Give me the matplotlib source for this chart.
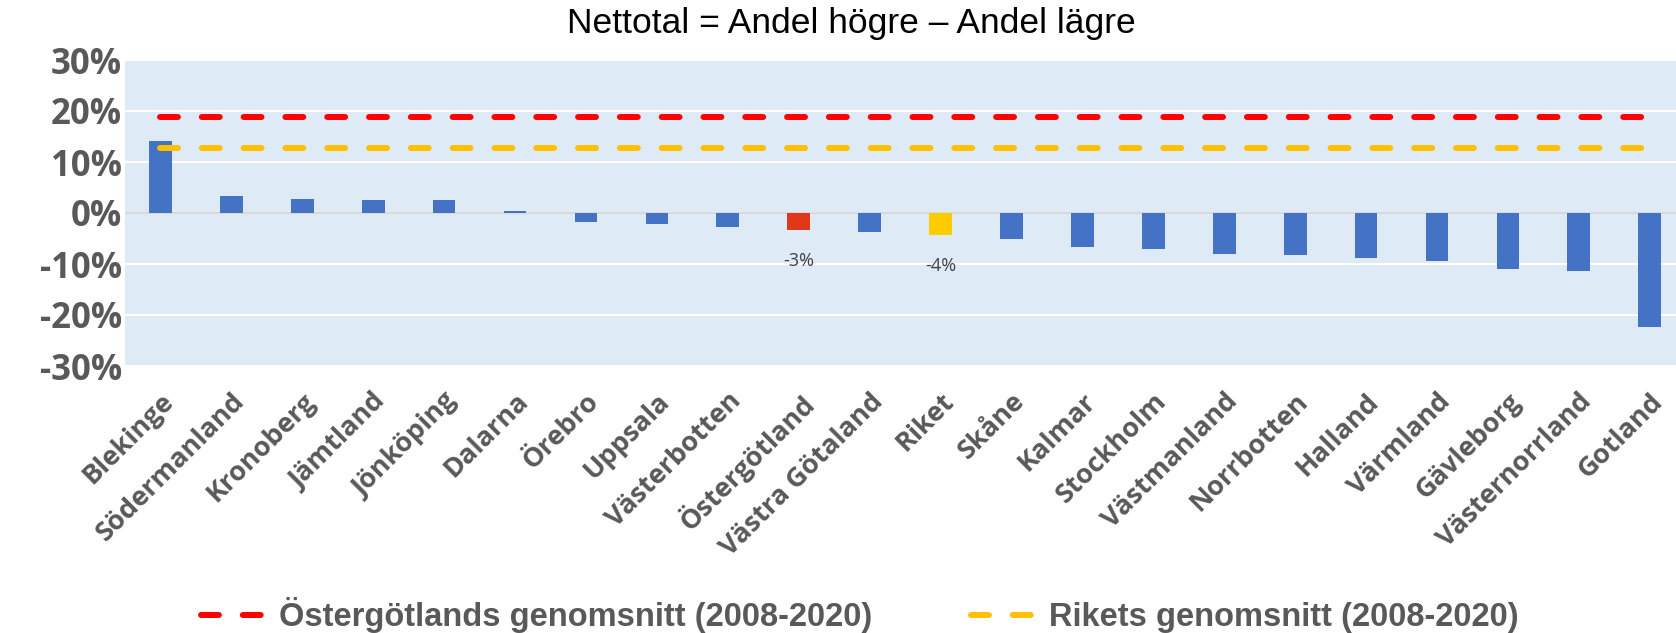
import matplotlib.pyplot as plt

# data
lan = ['Blekinge', 'Södermanland', 'Kronoberg', 'Jämtland', 'Jönköping', 'Dalarna',
       'Örebro', 'Uppsala', 'Västerbotten', 'Östergötland', 'Västra Götaland', 'Riket',
       'Skåne', 'Kalmar', 'Stockholm', 'Västmanland', 'Norrbotten', 'Halland',
       'Värmland', 'Gävleborg', 'Västernorrland', 'Gotland']
netto = [14.2, 3.4, 2.7, 2.6, 2.6, 0.4, -1.8, -2.2, -2.8, -3.4, -3.7, -4.4,
         -5.1, -6.7, -7.0, -8.0, -8.3, -8.8, -9.5, -11.0, -11.3, -22.3]
ostg_snitt = 18.8
riket_snitt = 12.7
etiketter = {'Östergötland': '-3%', 'Riket': '-4%'}

farger = []
for n in lan:
    if n == 'Östergötland':
        farger.append('#E2381A')
    elif n == 'Riket':
        farger.append('#FFCC00')
    else:
        farger.append('#4472C4')

grey = '#595959'
fig = plt.figure(figsize=(16.76, 6.33), dpi=100)
ax = fig.add_axes([125 / 1676, 1 - 366 / 633, (1676 - 125) / 1676, 306 / 633])
ax.set_facecolor('#DEEAF6')

x = list(range(len(lan)))
ax.bar(x, netto, width=0.32, color=farger, zorder=3)

ax.plot(x, [ostg_snitt] * len(x), color='#FF0000', lw=4.3, dashes=(3.0, 4.0),
        dash_capstyle='round', zorder=4, label='Östergötlands genomsnitt (2008-2020)')
ax.plot(x, [riket_snitt] * len(x), color='#FFC000', lw=4.3, dashes=(3.0, 4.0),
        dash_capstyle='round', zorder=4, label='Rikets genomsnitt (2008-2020)')

for i, n in enumerate(lan):
    if n in etiketter:
        ax.annotate(etiketter[n], (i, netto[i]), xytext=(0, -22), textcoords='offset points',
                    ha='center', va='center', fontsize=13, color='#404040',
                    family='Open Sans', zorder=5)

ax.set_xlim(-0.5, 21.37)
ax.set_ylim(-30, 30)
ax.set_yticks(range(-30, 31, 10))
ax.set_yticklabels([f'{v}%' for v in range(-30, 31, 10)], fontsize=25,
                   fontweight='bold', color=grey, family='Open Sans')
ax.set_xticks(x)
ax.set_xticklabels(lan, rotation=45, ha='right', rotation_mode='anchor', fontsize=19.5,
                   fontweight='bold', color=grey, family='Open Sans')
ax.tick_params(length=0, axis='y', pad=2)
ax.tick_params(length=0, axis='x', pad=16)
ax.grid(axis='y', color='white', lw=1.5, zorder=1)
ax.axhline(0, color='#D9D9D9', lw=1.5, zorder=2)
for s in ax.spines.values():
    s.set_visible(False)

fig.text(0.508, 1 - 24 / 633, 'Nettotal = Andel högre – Andel lägre', ha='center', va='center',
         fontsize=25.5, family='Liberation Sans', color='black')

leg = fig.legend(loc='center', bbox_to_anchor=(0.513, 1 - 615 / 633), ncol=2, frameon=False,
                 prop={'family': 'Liberation Sans', 'weight': 'bold', 'size': 23.5},
                 handlelength=2.0, columnspacing=3.0, handletextpad=0.4)
for t in leg.get_texts():
    t.set_color(grey)

fig.savefig('out.png', dpi=100)
